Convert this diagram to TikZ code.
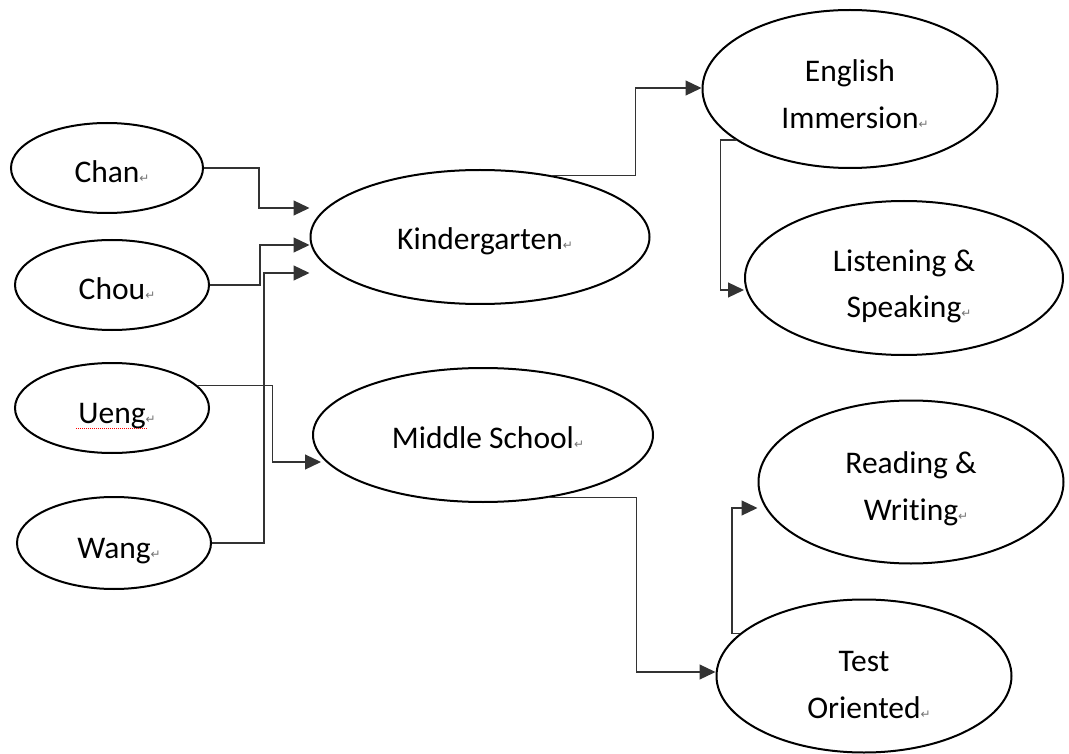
\documentclass[tikz,border=0pt]{standalone}
\usepackage{fontspec}
\setmainfont{Carlito}[Ligatures=NoCommon]
\newfontfamily\dejavu{DejaVu Sans}
\usetikzlibrary{shapes.geometric,arrows.meta}
\newcommand\pmark{\rlap{\dejavu\fontsize{12}{12}\selectfont\color{black!55}↵}}

\begin{document}
\begin{tikzpicture}[x=1pt,y=-1pt,
  bubble/.style={ellipse,draw,line width=2pt,inner sep=0pt,align=center,
    font=\fontsize{31.5}{47}\selectfont},
  oneline/.style={text height=30pt,text depth=0pt},
  twoline/.style={text height=#1,text depth=0pt},
  conn/.style={draw=black!80,line width=1.2pt,-{Triangle[length=16pt,width=15pt]}}]
\useasboundingbox (0,0) rectangle (1069,754);
\node[bubble,oneline,minimum width=192pt,minimum height=90pt] (chan) at (107,168) {Chan\pmark};
\node[bubble,oneline,minimum width=194pt,minimum height=90pt] (chou) at (112,285) {Chou\pmark};
\node[bubble,oneline,minimum width=194pt,minimum height=90pt] (ueng) at (112,408) {Ueng\pmark};
\node[bubble,oneline,minimum width=194pt,minimum height=92pt] (wang) at (114,543) {Wang\pmark};
\node[bubble,oneline,text height=26pt,minimum width=339pt,minimum height=134pt] (kinder) at (480,237) {Kindergarten\pmark};
\node[bubble,oneline,text height=26pt,minimum width=340pt,minimum height=134pt] (middle) at (483,435) {Middle School\pmark};
\node[bubble,twoline=80pt,minimum width=295pt,minimum height=158pt] (english) at (850,89) {English\\Immersion\pmark};
\node[bubble,twoline=80pt,minimum width=318pt,minimum height=154pt] (listen) at (904,278) {Listening \&\\Speaking\pmark};
\node[bubble,twoline=76pt,minimum width=305pt,minimum height=163pt] (read) at (911,482) {Reading \&\\Writing\pmark};
\node[bubble,twoline=84pt,minimum width=295pt,minimum height=153pt] (test) at (864,676) {Test\\Oriented\pmark};
\draw[red,densely dotted,line width=1pt] ([xshift=-36pt,yshift=-20pt]ueng.center) -- ++(71,0);
\draw[conn] (chan.east) -- ++(55,0) |- ([yshift=29pt]kinder.west);
\draw[conn] (chou.east) -- ++(50,0) |- ([yshift=-8pt]kinder.west);
\draw[conn] (wang.east) -- ++(52,0) |- ([yshift=-36pt]kinder.west);
\draw[conn] (ueng.15) -- ++(75,0) |- ([xshift=9pt,yshift=-27pt]middle.west);
\draw[conn] (kinder.41) -- ++(84,0) |- ([yshift=1pt]english.west);
\draw[conn] (middle.-44) -- ++(88,0) |- ([yshift=4pt]test.west);
\draw[conn] (english.204) -- ++(-15,0) |- ([yshift=-12pt]listen.west);
\draw[conn] (test.161) -- ++(-8,0) |- ([yshift=-26pt]read.west);
\end{tikzpicture}
\end{document}
